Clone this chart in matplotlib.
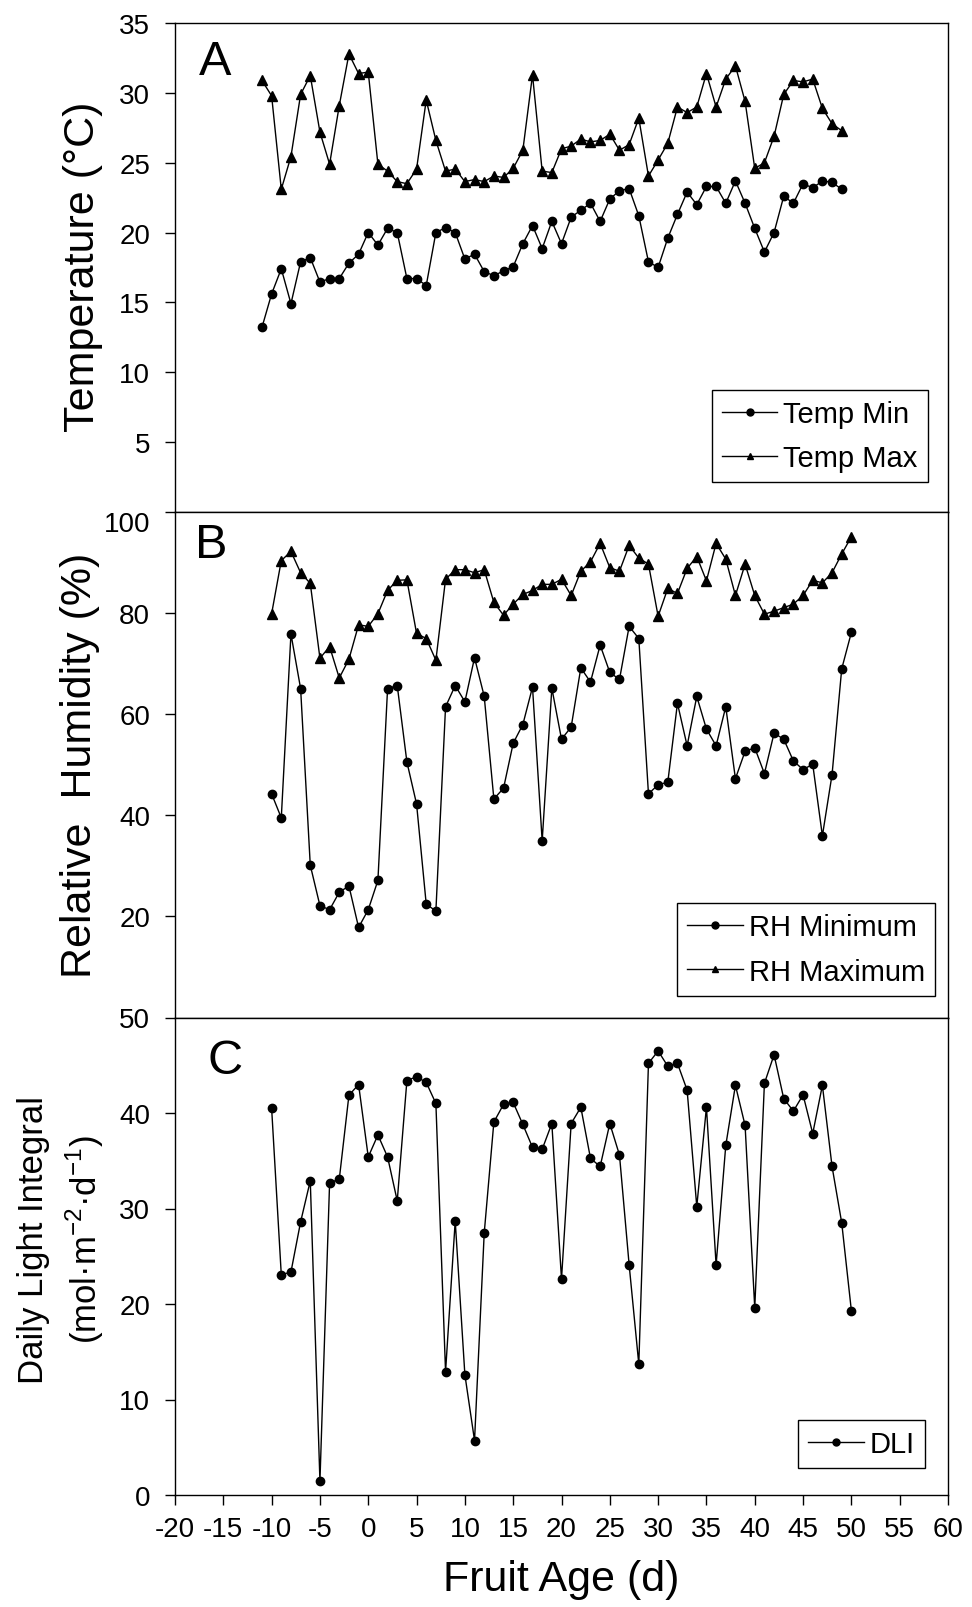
import matplotlib
matplotlib.use('Agg')
import matplotlib.pyplot as plt

plt.rcParams['font.family'] = ['Liberation Sans', 'DejaVu Sans']
plt.rcParams['mathtext.fontset'] = 'custom'
plt.rcParams['mathtext.rm'] = 'Liberation Sans'
plt.rcParams['axes.unicode_minus'] = False

# days (temperature record starts one day earlier than RH / DLI)
temp_days = list(range(-11, 50))
days = list(range(-10, 51))

temp_min = [13.2, 15.6, 17.4, 14.9, 17.9, 18.2, 16.45, 16.7, 16.7, 17.8,
            18.45, 20.0, 19.1, 20.3, 20.0, 16.7, 16.7, 16.2, 20.0, 20.35,
            20.0, 18.1, 18.45, 17.2, 16.9, 17.25, 17.55, 19.2, 20.5, 18.85,
            20.8, 19.2, 21.1, 21.6, 22.1, 20.8, 22.4, 23.0, 23.15, 21.2,
            17.9, 17.5, 19.6, 21.3, 22.9, 22.0, 23.3, 23.3, 22.1, 23.7,
            22.1, 20.3, 18.6, 20.0, 22.6, 22.1, 23.5, 23.2, 23.7, 23.6, 23.1]
temp_max = [30.9, 29.8, 23.1, 25.45, 29.9, 31.25, 27.2, 24.9, 29.1, 32.8,
            31.4, 31.5, 24.9, 24.4, 23.65, 23.5, 24.55, 29.5, 26.6, 24.4,
            24.55, 23.65, 23.8, 23.65, 24.05, 23.95, 24.6, 25.9, 31.3, 24.4,
            24.3, 26.0, 26.2, 26.7, 26.5, 26.6, 27.05, 25.9, 26.3, 28.2,
            24.05, 25.2, 26.4, 29.0, 28.6, 29.0, 31.4, 29.0, 31.0, 31.95,
            29.4, 24.6, 25.0, 26.9, 29.9, 30.9, 30.8, 31.0, 28.9, 27.8, 27.3]

rh_min = [44.2, 39.45, 75.8, 65.0, 30.1, 22.1, 21.3, 24.75, 26.0, 17.8,
          21.3, 27.1, 65.0, 65.6, 50.5, 42.2, 22.4, 21.05, 61.4, 65.6,
          62.4, 71.1, 63.5, 43.2, 45.3, 54.2, 57.9, 65.3, 34.9, 65.1,
          55.0, 57.4, 69.1, 66.3, 73.6, 68.2, 66.8, 77.3, 74.9, 44.2,
          46.0, 46.5, 62.1, 53.7, 63.45, 57.0, 53.7, 61.4, 47.2, 52.6,
          53.3, 48.2, 56.2, 55.0, 50.7, 49.0, 50.05, 35.9, 48.0, 68.9, 76.1]
rh_max = [79.8, 90.3, 92.1, 87.9, 85.8, 71.0, 73.3, 67.1, 70.8, 77.6,
          77.3, 79.8, 84.4, 86.4, 86.5, 75.9, 74.9, 70.6, 86.6, 88.5,
          88.5, 87.9, 88.5, 82.05, 79.5, 81.7, 83.6, 84.4, 85.6, 85.6,
          86.6, 83.4, 88.2, 90.05, 93.7, 88.9, 88.2, 93.3, 90.8, 89.6,
          79.3, 84.8, 83.8, 88.75, 91.1, 86.3, 93.7, 90.6, 83.4, 89.6,
          83.4, 79.7, 80.3, 81.0, 81.7, 83.4, 86.4, 85.9, 87.9, 91.6, 95.0]

dli = [40.5, 23.06, 23.35, 28.6, 32.9, 1.45, 32.7, 33.06, 41.86, 42.98,
       35.4, 37.7, 35.4, 30.8, 43.4, 43.8, 43.2, 41.0, 12.9, 28.7,
       12.6, 5.7, 27.4, 39.05, 40.9, 41.1, 38.8, 36.4, 36.2, 38.9,
       22.6, 38.9, 40.6, 35.25, 34.4, 38.9, 35.6, 24.1, 13.7, 45.2,
       46.5, 44.9, 45.2, 42.4, 30.2, 40.6, 24.1, 36.6, 42.9, 38.7,
       19.6, 43.1, 46.1, 41.5, 40.2, 41.9, 37.85, 42.9, 34.4, 28.5, 19.3]

x_ticks = list(range(-20, 61, 5))

FW, FH = 972, 1608
fig = plt.figure(figsize=(FW / 100, FH / 100), dpi=100)


def add_panel(top, bottom, left=175, right=948):
    return fig.add_axes([left / FW, 1 - bottom / FH, (right - left) / FW, (bottom - top) / FH])


ax_a = add_panel(24.3, 512.5)
ax_b = add_panel(512.5, 1018.5)
ax_c = add_panel(1018.5, 1496)

line_kw = dict(color='black', linewidth=1.0)

ax_a.plot(temp_days, temp_min, marker='o', markersize=6, label='Temp Min', **line_kw)
ax_a.plot(temp_days, temp_max, marker='^', markersize=7, label='Temp Max', **line_kw)
ax_b.plot(days, rh_min, marker='o', markersize=6, label='RH Minimum', **line_kw)
ax_b.plot(days, rh_max, marker='^', markersize=7, label='RH Maximum', **line_kw)
ax_c.plot(days, dli, marker='o', markersize=6, label='DLI', **line_kw)

ax_a.set_ylim(0, 35)
ax_a.set_yticks(range(5, 36, 5))
ax_b.set_ylim(0, 100)
ax_b.set_yticks(range(20, 101, 20))
ax_c.set_ylim(0, 50)
ax_c.set_yticks(range(0, 51, 10))

for ax in (ax_a, ax_b, ax_c):
    ax.set_xlim(-20, 60)
    for sp in ax.spines.values():
        sp.set_linewidth(1.0)
        sp.set_color('black')
    ax.tick_params(axis='y', direction='out', length=7, width=1, pad=11,
                   labelsize=20, right=False)
    ax.tick_params(axis='x', direction='out', length=7, width=1, pad=8,
                   labelsize=20, top=False)

for ax in (ax_a, ax_b):
    ax.set_xticks(x_ticks)
    ax.tick_params(axis='x', bottom=False, labelbottom=False)
ax_c.set_xticks(x_ticks)

# 100 label sits just below the panel border
ax_b.get_yticklabels()[-1].set_va('top')

# panel letters
ax_a.text(0.052, 0.922, 'A', transform=ax_a.transAxes, fontsize=35, ha='center', va='center')
ax_b.text(0.047, 0.935, 'B', transform=ax_b.transAxes, fontsize=35, ha='center', va='center')
ax_c.text(0.065, 0.910, 'C', transform=ax_c.transAxes, fontsize=35, ha='center', va='center')

leg_kw = dict(loc='lower right', borderaxespad=0, frameon=True, fancybox=False,
              edgecolor='black', framealpha=1, fontsize=21, handlelength=1.9,
              handletextpad=0.2, labelspacing=0.55, borderpad=0.35, numpoints=1)
for ax, anchor in ((ax_a, (0.974, 0.060)), (ax_b, (0.983, 0.043)), (ax_c, (0.970, 0.0565))):
    leg = ax.legend(bbox_to_anchor=anchor, **leg_kw)
    leg.get_frame().set_linewidth(1.0)
    for h in leg.legend_handles:
        h.set_markersize(5)

# axis titles
fig.text(83 / FW, 1 - 267 / FH, 'Temperature (°C)', rotation=90, fontsize=31,
         ha='center', va='center')
fig.text(80 / FW, 1 - 765 / FH, 'Relative  Humidity (%)', rotation=90, fontsize=31,
         ha='center', va='center')
fig.text(34 / FW, 1 - 1240 / FH, 'Daily Light Integral', rotation=90, fontsize=25,
         ha='center', va='center')
fig.text(85 / FW, 1 - 1240 / FH, r'(mol·m$^{\mathregular{-2}}$·d$^{\mathregular{-1}}$)',
         rotation=90, fontsize=25, ha='center', va='center')
fig.text(561.5 / FW, 1 - 1580 / FH, 'Fruit Age (d)', fontsize=31, ha='center', va='center')

fig.savefig('out.png', dpi=100)
